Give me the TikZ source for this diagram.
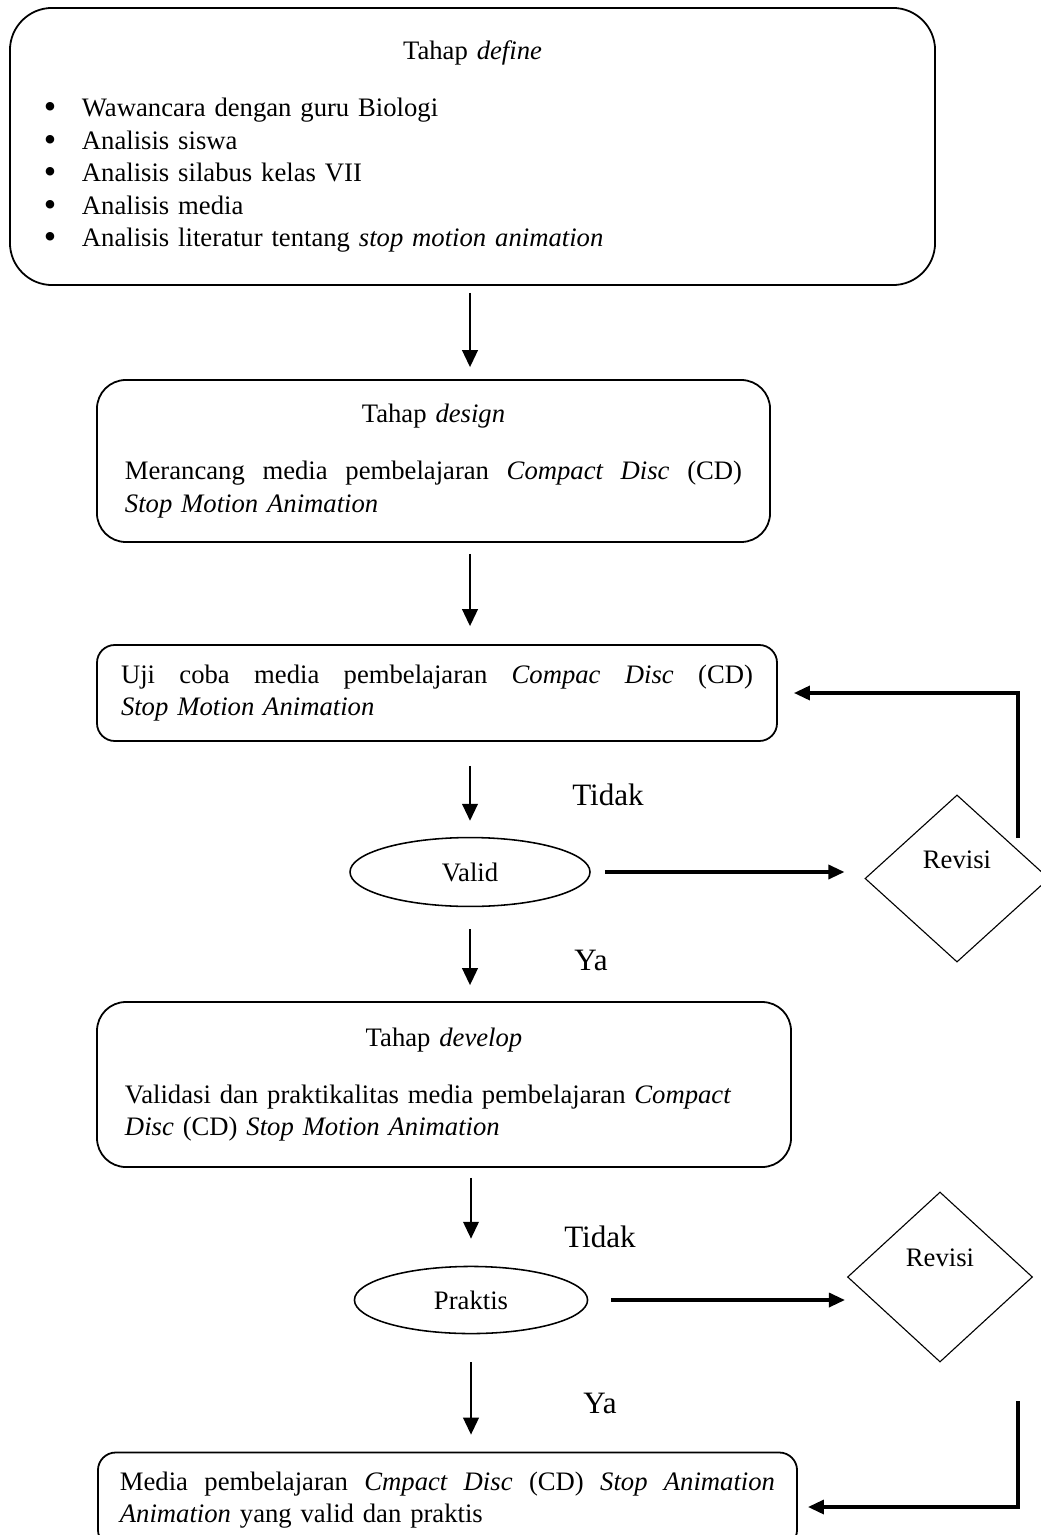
\documentclass[tikz,border=0pt]{standalone}
\usepackage{fontspec}
\setmainfont{Liberation Serif}
\usetikzlibrary{shapes.geometric,arrows.meta}
\newcommand{\itembul}{\makebox[17.1pt][l]{\raisebox{-0.9pt}{\fontsize{16}{14.6}\selectfont\textbullet}}}
\newcommand{\fullline}[2]{\hbox to #1{\spaceskip=3pt plus 1fil\relax #2}}

\begin{document}
\begin{tikzpicture}[x=0.45pt, y=-0.45pt, line width=0.8pt,
    >={Triangle[length=7.6pt,width=7pt]},
    every node/.style={font=\fontsize{12}{14.6}\selectfont},
    box/.style={draw, rounded corners=#1, inner ysep=0pt},
    oval/.style={draw, ellipse, line width=0.7pt, inner sep=0pt},
    rhomb/.style={draw, diamond, line width=0.5pt, inner sep=0pt},
    answer/.style={font=\fontsize{14}{16}\selectfont},
    arr/.style={->, line width=0.9pt},
    fb/.style={->, line width=1.5pt, >={Triangle[length=7.2pt,width=6.3pt]}}]
    \useasboundingbox (0,0) rectangle (1040,1535);
    % tahap define
    \node[box=19pt, minimum width=416.3pt, minimum height=124.7pt, inner xsep=15.3pt, text width=385.7pt] (define) at (472.5,146.5) {%
        {\centering Tahap \textit{define}\par}\vspace{11.1pt}
        \noindent\itembul Wawancara dengan guru Biologi\par
        \noindent\itembul Analisis siswa\par
        \noindent\itembul Analisis silabus kelas VII\par
        \noindent\itembul Analisis media\par
        \noindent\itembul Analisis literatur tentang \textit{stop motion animation}\par};
    % tahap design
    \node[box=13pt, minimum width=302.9pt, minimum height=72.9pt, inner xsep=12.6pt, text width=277.7pt] (design) at (433.5,461) {%
        {\centering Tahap \textit{design}\par}\vspace{11.1pt}
        \noindent\fullline{277.7pt}{Merancang media pembelajaran \textit{Compact Disc} (CD)}\par
        \noindent\textit{Stop Motion Animation}\par};
    % uji coba
    \node[box=8pt, minimum width=306pt, minimum height=43.2pt, inner xsep=10.8pt, text width=284.4pt] (uji) at (437,693) {%
        \noindent\fullline{284.4pt}{Uji coba media pembelajaran \textit{Compac Disc} (CD)}\par
        \noindent\textit{Stop Motion Animation}\par};
    \node[oval, minimum width=108pt, minimum height=31pt] (valid) at (470,872) {Valid};
    \node[rhomb, minimum width=82.8pt, minimum height=75.2pt] (rev1) at (957,878.5) {};
    \node (rev1txt) at (957,860) {Revisi};
    \node[answer] (tidak1) at (608,795) {Tidak};
    \node[answer] (ya1) at (591,960) {Ya};
    % tahap develop
    \node[box=13pt, minimum width=312.3pt, minimum height=74.25pt, inner xsep=12.6pt, text width=287.1pt] (develop) at (444,1084.5) {%
        {\centering Tahap \textit{develop}\par}\vspace{11.1pt}
        \noindent Validasi dan praktikalitas media pembelajaran \textit{Compact}\par
        \noindent\textit{Disc} (CD) \textit{Stop Motion Animation}\par};
    \node[oval, minimum width=104.9pt, minimum height=30.2pt] (praktis) at (471,1300) {Praktis};
    \node[rhomb, minimum width=83.25pt, minimum height=76.5pt] (rev2) at (940,1277) {};
    \node (rev2txt) at (940,1258) {Revisi};
    \node[answer] (tidak2) at (600,1237) {Tidak};
    \node[answer] (ya2) at (600,1403) {Ya};
    % hasil akhir
    \node[box=8pt, minimum width=314.6pt, minimum height=42.75pt, inner xsep=9.9pt, text width=294.8pt] (final) at (447.5,1500) {%
        \noindent\fullline{294.8pt}{Media pembelajaran \textit{Cmpact Disc} (CD) \textit{Stop Animation}}\par
        \noindent\textit{Animation} yang valid dan praktis\par};

    \draw[arr, shorten <=3.15pt, shorten >=5.4pt] (define.south -| valid) -- (design.north -| valid);
    \draw[arr, shorten <=4.95pt, shorten >=8.1pt] (design.south -| valid) -- (uji.north -| valid);
    \draw[arr, shorten <=10.8pt, shorten >=7.2pt] (uji.south -| valid) -- (valid.north);
    \draw[arr, shorten <=9.9pt, shorten >=7.2pt] (valid.south) -- (develop.north -| valid);
    \draw[arr, shorten <=4.5pt, shorten >=12.15pt] (develop.south -| praktis) -- (praktis.north);
    \draw[arr, shorten <=12.6pt, shorten >=7.65pt] (praktis.south) -- (final.north -| praktis);
    \draw[fb, shorten <=6.3pt, shorten >=9pt] (valid.east) -- (valid.east -| rev1.west);
    \draw[fb, shorten <=10.35pt, shorten >=0.9pt] (praktis.east) -- (praktis.east -| rev2.west);
    % balik ke uji coba
    \coordinate (fb1) at (1018,838);
    \draw[fb, shorten >=7.2pt] (fb1) |- (uji.east);
    \coordinate (fb2) at (1018,1401);
    \draw[fb, shorten >=4.5pt] (fb2) |- ([yshift=-3.15pt]final.east);
\end{tikzpicture}
\end{document}
